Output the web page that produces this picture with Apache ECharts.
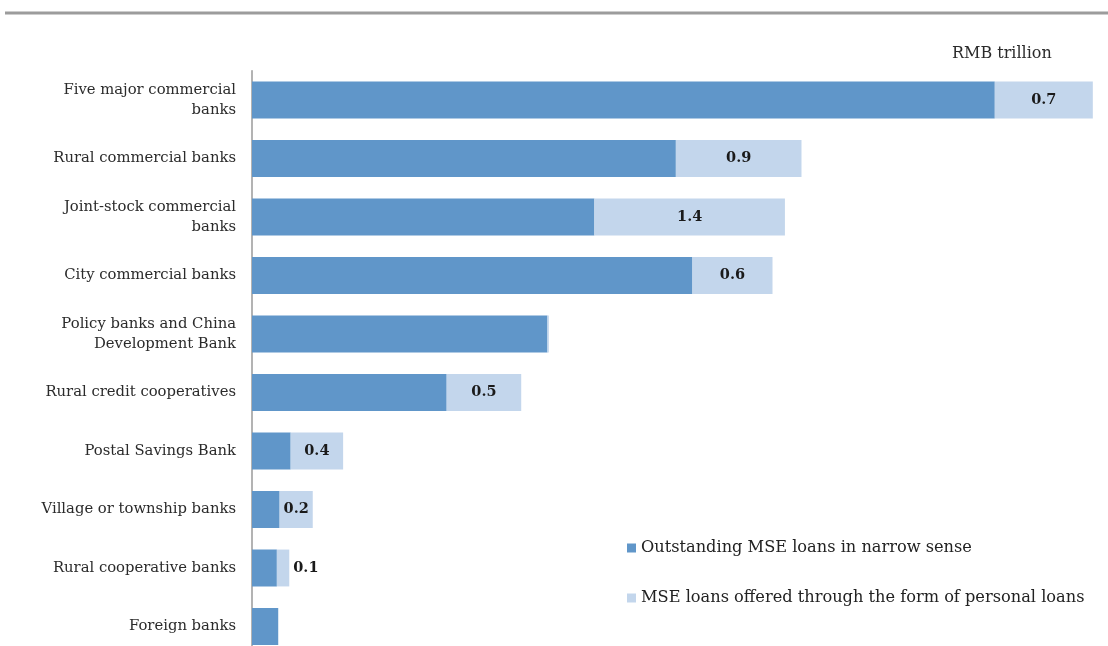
<!DOCTYPE html>
<html>
<head>
<meta charset="utf-8">
<title>MSE loans by bank type</title>
<script src="https://cdn.jsdelivr.net/npm/echarts@6/dist/echarts.min.js"></script>
<style>
  html, body { margin: 0; padding: 0; background: #fff; overflow: hidden; }
  /* taller than the window: the last bar is cut off at the bottom like the original */
  #chart { width: 1108px; height: 660px; }
</style>
</head>
<body>
<div id="chart"></div>
<script>
// bank types, top to bottom
var categories = [
  'Five major commercial\nbanks',
  'Rural commercial banks',
  'Joint-stock commercial\nbanks',
  'City commercial banks',
  'Policy banks and China\nDevelopment Bank',
  'Rural credit cooperatives',
  'Postal Savings Bank',
  'Village or township banks',
  'Rural cooperative banks',
  'Foreign banks'
];

// RMB trillion
var narrowLoans = [5.38, 3.07, 2.48, 3.19, 2.14, 1.41, 0.28, 0.20, 0.18, 0.19];
var personalLoans = [0.71, 0.91, 1.38, 0.58, 0.01, 0.54, 0.38, 0.24, 0.09, 0];

var seriesNames = [
  'Outstanding MSE loans in narrow sense',
  'MSE loans offered through the form of personal loans'
];

var serif = '"DejaVu Serif", "Liberation Serif", serif';

var chart = echarts.init(document.getElementById('chart'));

// small segments get their label outside, tiny ones none
var personalData = personalLoans.map(function (v) {
  if (v < 0.05) {
    return { value: v, label: { show: false } };
  }
  if (v < 0.15) {
    return { value: v, label: { position: 'right', distance: 4 } };
  }
  return v;
});

var option = {
  backgroundColor: '#fff',
  animation: false,
  grid: {
    left: 252,
    top: 70.75,
    width: 856,
    height: 585
  },
  xAxis: {
    type: 'value',
    min: 0,
    max: 6.2,
    show: false
  },
  yAxis: {
    type: 'category',
    inverse: true,
    data: categories,
    axisLine: { show: true, lineStyle: { color: '#9a9a9a', width: 1.5 } },
    axisTick: { show: false },
    axisLabel: {
      margin: 16,
      fontFamily: serif,
      fontSize: 14.8,
      color: '#2b2b2b',
      lineHeight: 20,
      align: 'right'
    }
  },
  legend: {
    orient: 'vertical',
    left: 622,
    top: 535,
    itemGap: 34,
    itemWidth: 9,
    itemHeight: 9,
    icon: 'rect',
    textStyle: { fontFamily: serif, fontSize: 16.2, color: '#222' },
    data: seriesNames
  },
  graphic: [
    {
      type: 'rect',
      shape: { x: 5, y: 11.5, width: 1103, height: 3 },
      style: { fill: '#9c9c9c' }
    },
    {
      type: 'text',
      left: 952,
      top: 46,
      style: {
        text: 'RMB trillion',
        font: '16px ' + serif,
        fill: '#2b2b2b'
      }
    }
  ],
  series: [
    {
      name: seriesNames[0],
      type: 'bar',
      stack: 'total',
      barCategoryGap: '37%',
      itemStyle: { color: '#6096c9' },
      data: narrowLoans
    },
    {
      name: seriesNames[1],
      type: 'bar',
      stack: 'total',
      barCategoryGap: '37%',
      itemStyle: { color: '#c3d6ec' },
      label: {
        show: true,
        position: 'inside',
        fontFamily: serif,
        fontWeight: 'bold',
        fontSize: 14.5,
        color: '#1a1a1a',
        formatter: function (p) { return p.value.toFixed(1); }
      },
      data: personalData
    }
  ]
};

chart.setOption(option);
</script>
</body>
</html>
